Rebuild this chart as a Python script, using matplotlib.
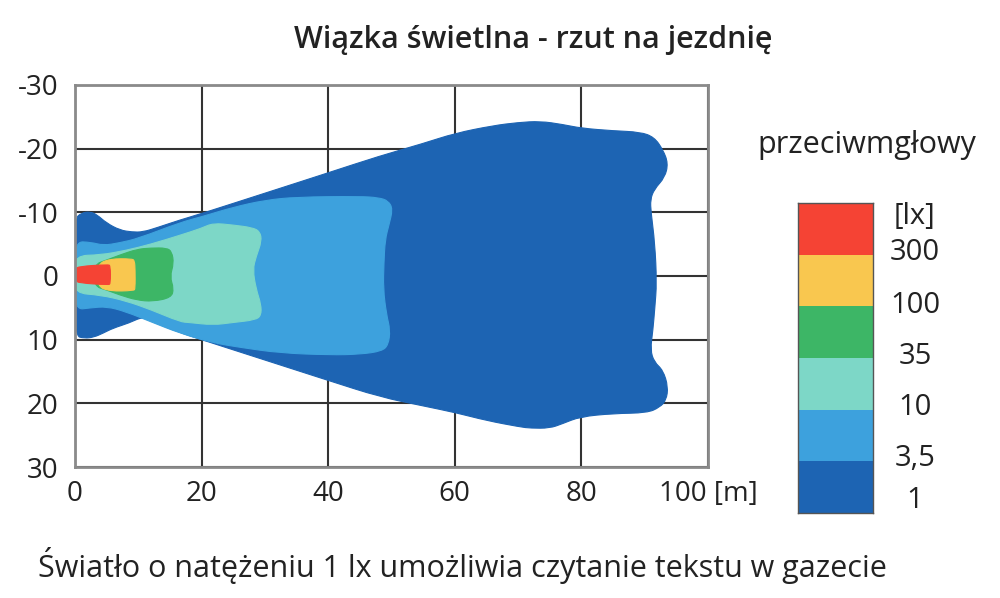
import matplotlib.pyplot as plt
from matplotlib.patches import Rectangle, PathPatch
from matplotlib.path import Path

plt.rcParams['font.family'] = ['Open Sans', 'DejaVu Sans']
plt.rcParams['axes.unicode_minus'] = False

# strefy natezenia [lx]: kontury (x w m, y w m)
x_1lx = [0, 0, 1.0, 2.4, 3.5, 5.0, 7.1, 9.0, 10.7, 13.0, 16.6, 20, 30, 40, 48, 55, 60, 66, 70, 73.5,
         77, 80, 85, 89.3, 91.5, 92.9, 93.7, 93.2, 91.5, 90.9, 91.0, 91.6, 91.9, 91.6, 91.3, 90.9,
         91.5, 92.9, 93.7, 93.4, 92.4, 90.4, 85, 79.8, 77, 75, 72, 70.3, 65, 60.3, 55, 48.2,
         40, 30, 20, 16, 12, 10.7, 8.5, 6.0, 4.4, 3.0, 1.5, 0, 0]
y_1lx = [0, -9.0, -9.9, -10.1, -9.6, -8.3, -7.2, -6.9, -6.9, -7.6, -8.8, -9.8, -13.0, -16.2, -18.8,
         -20.8, -22.4, -23.6, -24.1, -24.3, -23.8, -23.2, -22.8, -22.6, -21.8, -19.8, -17.7,
         -15.5, -13.6, -12.0, -10.0, -5.2, 1.1, 5.0, 8.5, 11.6, 13.5, 14.8, 17.4, 19.5, 20.6, 21.5,
         21.6, 22.1, 23.2, 23.9, 23.9, 23.7, 22.7, 21.5, 20.4, 19.0, 16.4, 13.2, 10.0, 8.7,
         7.0, 6.4, 7.4, 8.2, 9.0, 9.6, 9.8, 9.4, 0]

x_3lx = [0, 0, 2.5, 4.5, 7.0, 10, 16.6, 20, 25, 30, 35, 45, 48, 49.5, 50.2, 49.6, 49.0, 48.8, 48.7,
         49.2, 49.8, 49.5, 48.5, 45, 40.3, 32.4, 26, 21.8, 16.6, 12, 8, 5, 2.5, 0, 0]
y_3lx = [0, -5.4, -5.3, -4.8, -5.2, -5.9, -8.4, -9.3, -10.8, -11.9, -12.4, -12.5, -12.3, -11.8,
         -10.5, -8.0, -5.7, -2.0, 2.0, 6.0, 8.5, 10.8, 11.8, 12.3, 12.4, 12.1, 11.2, 10.5, 9.0,
         7.2, 5.6, 4.8, 5.0, 5.3, 0]

x_10lx = [0, 0, 4, 8, 12, 16.6, 20, 21.8, 25, 28, 29.2, 29.5, 28.6, 28.1, 28.6, 29.4, 29.4, 28.5,
          25, 21.8, 18, 16.6, 12, 8, 4, 0, 0]
y_10lx = [0, -3.2, -3.3, -4.0, -5.0, -6.4, -7.5, -8.3, -8.0, -7.6, -7.0, -5.5, -3.0, -1.0, 2.0,
          4.5, 6.2, 6.9, 7.3, 7.7, 7.3, 7.2, 5.3, 3.9, 3.0, 2.7, 0]

x_35lx = [3, 5, 7.1, 9.8, 12, 14.5, 15.3, 15.6, 15.0, 15.6, 15.2, 12.3, 9.8, 7.1, 5, 3]
y_35lx = [-1.8, -2.5, -3.3, -4.2, -4.4, -4.4, -3.8, -2.0, 0.1, 2.0, 3.4, 4.0, 3.8, 3.0, 2.2, 1.6]

x_100lx = [3.5, 5.5, 9.0, 9.4, 9.5, 9.5, 9.3, 5.5, 3.5]
y_100lx = [-1.8, -2.7, -2.7, -2.4, -1.0, 2.0, 2.3, 2.4, 1.6]

x_300lx = [0.1, 0.6, 5.2, 5.6, 5.6, 5.3, 0.6, 0.1]
y_300lx = [-1.1, -1.5, -1.8, -1.6, 1.2, 1.4, 1.1, 0.7]

kolory = ['#1d64b3', '#3da1dd', '#7dd7c7', '#3db666', '#f9c74f', '#f54334']
poziomy = ['1', '3,5', '10', '35', '100', '300']

strefy = [(x_1lx, y_1lx), (x_3lx, y_3lx), (x_10lx, y_10lx),
          (x_35lx, y_35lx), (x_100lx, y_100lx), (x_300lx, y_300lx)]


def gladki_kontur(xs, ys):
	# zamkniety kontur z krzywych Beziera (punkty jako punkty kontrolne)
	n = len(xs)
	pkt = list(zip(xs, ys))
	sr = [((pkt[i][0] + pkt[(i + 1) % n][0]) / 2, (pkt[i][1] + pkt[(i + 1) % n][1]) / 2)
	      for i in range(n)]
	wierzcholki = [sr[-1]]
	kody = [Path.MOVETO]
	for i in range(n):
		wierzcholki += [pkt[i], sr[i]]
		kody += [Path.CURVE3, Path.CURVE3]
	return Path(wierzcholki, kody)


fig = plt.figure(figsize=(10, 5.98), dpi=100)
ax = fig.add_axes([0.075, 0.219, 0.633, 0.639])

for (xs, ys), kolor in zip(strefy, kolory):
	ax.add_patch(PathPatch(gladki_kontur(xs, ys), facecolor=kolor, edgecolor=kolor,
	                       linewidth=0.8, zorder=2))

ax.set_xlim(0, 100)
ax.set_ylim(30, -30)
ax.set_xticks([0, 20, 40, 60, 80, 100])
ax.set_xticklabels(['0', '20', '40', '60', '80', '100 [m]'])
ax.set_yticks([-30, -20, -10, 0, 10, 20, 30])
ax.grid(True, color='#333333', linewidth=1.5, zorder=0)
ax.set_axisbelow(True)
for s in ax.spines.values():
	s.set_color('#8a8a8a')
	s.set_linewidth(2)
	s.set_zorder(3)
ax.tick_params(length=0, labelsize=20, labelcolor='#222222')
ax.tick_params(axis='y', pad=12)
ax.tick_params(axis='x', pad=9)

# legenda
cax = fig.add_axes([0.798, 1 - 513 / 598, 0.075, 310 / 598])
for i, kolor in enumerate(kolory):
	cax.add_patch(Rectangle((0, i), 1, 1, facecolor=kolor, edgecolor='none'))
cax.set_xlim(0, 1)
cax.set_ylim(0, 6)
cax.set_xticks([])
cax.set_yticks([])
for s in cax.spines.values():
	s.set_color('#555555')
	s.set_linewidth(1)

pozycje = [0.25, 1.06, 2.04, 3.02, 4.02, 5.05]
for poz, etykieta in zip(pozycje, poziomy):
	cax.text(1.56, poz, etykieta, ha='center', va='center', fontsize=21, color='#222222')
cax.text(1.56, 5.74, '[lx]', ha='center', va='center', fontsize=21, color='#222222')

fig.text(0.867, 1 - 145 / 598, 'przeciwmgłowy', ha='center', va='center', fontsize=22,
         color='#222222')
fig.text(0.533, 1 - 40 / 598, 'Wiązka świetlna - rzut na jezdnię', ha='center', va='center',
         fontsize=22, fontweight='semibold', color='#222222')
fig.text(0.038, 1 - 565 / 598, 'Światło o natężeniu 1 lx umożliwia czytanie tekstu w gazecie',
         ha='left', va='center', fontsize=22, color='#222222')

fig.savefig('out.png', dpi=100)
